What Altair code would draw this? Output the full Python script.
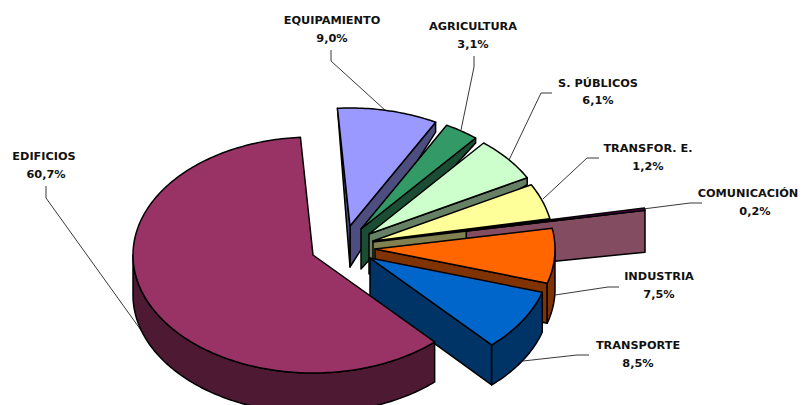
import math
import altair as alt

# --- chart data ---
names = ["EQUIPAMIENTO", "AGRICULTURA", "S. PÚBLICOS", "TRANSFOR. E.", "COMUNICACIÓN", "INDUSTRIA", "TRANSPORTE", "EDIFICIOS"]
shares = [9.0, 3.1, 6.1, 4.9, 0.2, 7.5, 8.5, 60.7]   # share of the circle as drawn
labels = ["9,0%", "3,1%", "6,1%", "1,2%", "0,2%", "7,5%", "8,5%", "60,7%"]

# --- styles ---
top_colors = ["#9999FF", "#339966", "#CCFFCC", "#FFFF99", "#660066", "#FF6600", "#0066CC", "#993366"]
side_colors = ["#4D4D80", "#1A4D33", "#668066", "#808050", "#834C60", "#803300", "#003366", "#4D1933"]

# --- layout of the exploded 3-D pie (page pixels) ---
OFF = 8
RX, RY = 180, 118
START = 94.0
apex_x = [350, 361, 369, 373, 373, 375, 370, 313]
apex_y = [226, 229, 234, 241, 242, 249, 258, 255]
reach = [1, 1, 1, 1, 1.535, 1, 1, 1]
apex_depth = [41, 40, 40, 21, 39, 40, 39, 40]
rim_depth = [10, 5, 7, 4, 42, 40, 40, 40]

name_x = [332, 473, 598, 648, 748, 659, 638, 44]
value_x = [332, 473, 598, 648, 755, 659, 638, 46]
name_y = [21, 27, 84, 149, 194, 277, 346, 157]
value_y = [39, 45, 101, 167, 212, 295, 364, 175]

leaders = [
    [(331, 50), (331, 61), (386, 111)],
    [(474, 56), (474, 67), (461, 130)],
    [(552, 93), (541, 93), (509, 160)],
    [(599, 158), (587, 158), (543, 199)],
    [(702, 203), (690, 203), (643, 209)],
    [(619, 287), (608, 287), (555, 295)],
    [(589, 355), (577, 355), (523, 361)],
    [(46, 186), (46, 198), (143, 333)],
]


def pt(i, angle, k=1.0, dy=0.0):
    a = math.radians(angle)
    return (apex_x[i] + k * RX * math.cos(a) - OFF,
            apex_y[i] - k * RY * math.sin(a) + dy - OFF)


def poly(points, fill):
    ring = [list(p) for p in points]
    ring.append(ring[0])
    return {"type": "Feature", "properties": {"fill": fill},
            "geometry": {"type": "Polygon", "coordinates": [ring]}}


def arc(i, a0, a1, k=1.0, dy=0.0):
    n = max(2, int(abs(a1 - a0)) + 2)
    return [pt(i, a0 + (a1 - a0) * j / (n - 1), k, dy) for j in range(n)]


features = []
angle = START
for i, s in enumerate(shares):
    a0, a1 = angle, angle - s * 3.6
    angle = a1
    k = reach[i]
    top = pt(i, 0, 0)
    low = pt(i, 0, 0, apex_depth[i])
    if names[i] == "COMUNICACIÓN":
        # side wall visible only past the neighbouring slice
        f = 0.343
        e = pt(i, a1, k)
        e2 = pt(i, a1, k, rim_depth[i])
        s0 = (top[0] + (e[0] - top[0]) * f, top[1] + (e[1] - top[1]) * f)
        features.append(poly([s0, e, e2, (s0[0], s0[1] + apex_depth[i])], side_colors[i]))
    elif names[i] != "EDIFICIOS":
        features.append(poly([top, pt(i, a1, k), pt(i, a1, k, rim_depth[i]), low], side_colors[i]))
    if names[i] == "EQUIPAMIENTO":
        features.append(poly([pt(i, a0), top, low], side_colors[i]))
    if names[i] == "EDIFICIOS":
        w0, w1 = a0, -180
        features.append(poly(arc(i, w0, w1, k) + arc(i, w1, w0, k, rim_depth[i]), side_colors[i]))
    elif a1 < 0:
        # outer wall of the front slices
        w0, w1 = min(a0, 0), a1
        features.append(poly(arc(i, w0, w1, k) + arc(i, w1, w0, k, rim_depth[i]), side_colors[i]))
    features.append(poly([top] + arc(i, a0, a1, k), top_colors[i]))

lines = [{"type": "Feature", "properties": {},
          "geometry": {"type": "LineString",
                       "coordinates": [[x - OFF, y - OFF] for x, y in pts]}} for pts in leaders]

proj = dict(type="identity", scale=1, translate=[0, 0])

shapes = alt.Chart(alt.Data(values=features)).mark_geoshape(
    stroke="black", strokeWidth=1.5, strokeJoin="round", clip=True
).encode(color=alt.Color("properties.fill:N", scale=None)).project(**proj)

leader_layer = alt.Chart(alt.Data(values=lines)).mark_geoshape(
    filled=False, stroke="#222222", strokeWidth=0.9
).project(**proj)

rows = []
for i, n in enumerate(names):
    rows.append({"t": n, "x": name_x[i] - OFF, "y": name_y[i] - OFF})
    rows.append({"t": labels[i], "x": value_x[i] - OFF, "y": value_y[i] - OFF})

text = alt.Chart(alt.Data(values=rows)).mark_text(
    font="DejaVu Sans", fontWeight="bold", fontSize=11.3, color="#111111",
    align="center", baseline="middle"
).encode(
    x=alt.X("x:Q", scale=None), y=alt.Y("y:Q", scale=None), text="t:N"
)

chart = alt.layer(leader_layer, shapes, text).properties(
    width=793, height=397, padding=0, autosize=alt.AutoSizeParams(type="none")
).configure_view(stroke=None).configure_axis(disable=True)

chart.save("out.html", embed_options={"renderer": "svg", "actions": False})
